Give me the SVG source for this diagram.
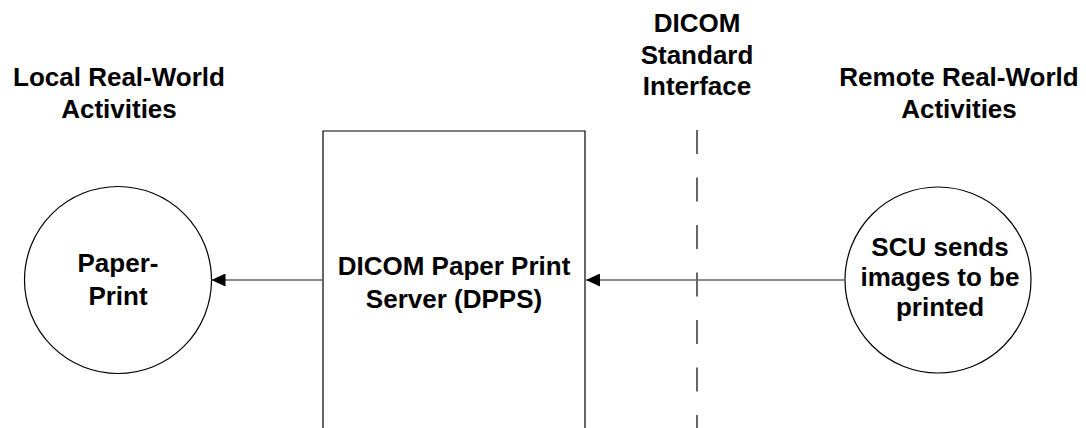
<svg xmlns="http://www.w3.org/2000/svg" width="1086" height="428" viewBox="0 0 1086 428">
<style>
text{font-family:"Liberation Sans",Arial,sans-serif;font-weight:bold;font-size:26px;fill:#000;text-anchor:middle}
.shape{fill:#fff;stroke:#000;stroke-width:1.2}
.conn{stroke:#666;stroke-width:1.3;fill:none}
.dash{stroke:#000;stroke-width:1.2;stroke-dasharray:24 23.5;fill:none}
</style>
<defs>
<marker id="arr" markerWidth="14" markerHeight="13" refX="14" refY="6.5" orient="auto" markerUnits="userSpaceOnUse">
<path d="M0,0 L14,6.5 L0,13 Z" fill="#000"/>
</marker>
</defs>
<rect width="1086" height="428" fill="#fff"/>
<g id="labels">
<text x="119" y="86">Local Real-World</text>
<text x="119" y="118">Activities</text>
<text x="697" y="32">DICOM</text>
<text x="697" y="64">Standard</text>
<text x="697" y="95">Interface</text>
<text x="959" y="86">Remote Real-World</text>
<text x="959" y="118">Activities</text>
</g>
<g id="interface-line">
<line class="dash" x1="697" y1="130" x2="697" y2="430"/>
</g>
<g id="paper-print">
<circle class="shape" cx="118" cy="280" r="93.5"/>
<text x="118" y="272">Paper-</text>
<text x="118" y="305">Print</text>
</g>
<g id="dpps">
<path class="shape" d="M323,440 L323,131 L585,131 L585,440"/>
<text x="454" y="275">DICOM Paper Print</text>
<text x="454" y="308">Server (DPPS)</text>
</g>
<g id="scu">
<circle class="shape" cx="938" cy="280" r="93"/>
<text x="940" y="256">SCU sends</text>
<text x="940" y="286">images to be</text>
<text x="940" y="316">printed</text>
</g>
<g id="connectors">
<line class="conn" x1="323" y1="280" x2="211.5" y2="280" marker-end="url(#arr)"/>
<line class="conn" x1="845" y1="280" x2="586" y2="280" marker-end="url(#arr)"/>
</g>
</svg>
